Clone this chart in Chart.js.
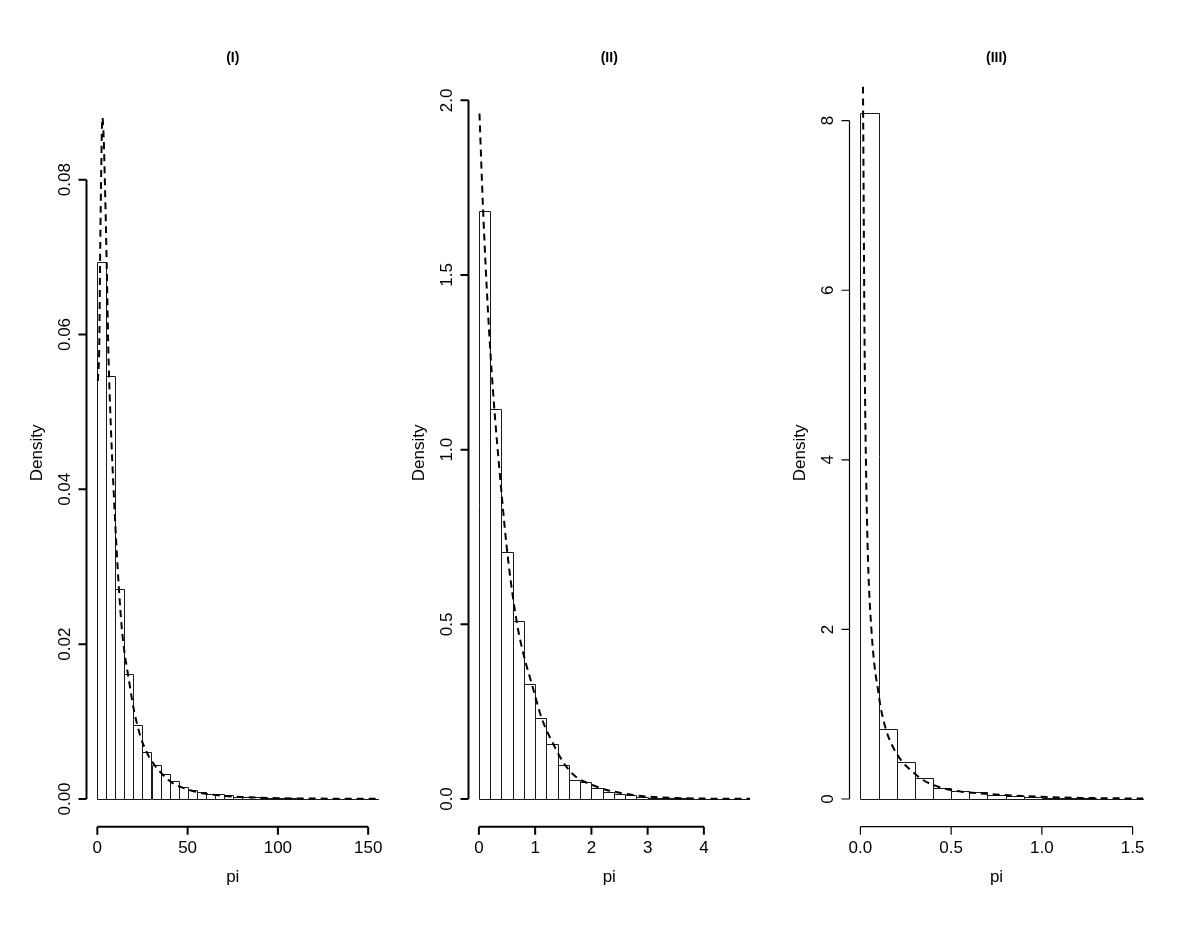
<!DOCTYPE html>
<html lang="en">
<head>
<meta charset="UTF-8">
<title>Density of pi</title>
<script src="https://cdn.jsdelivr.net/npm/chart.js"></script>
<style>
    body { margin: 0; background: #fff; }
    .wrap { position: relative; width: 1200px; height: 927px; }
    .wrap canvas { position: absolute; left: 0; top: 0; }
</style>
</head>
<body>
<div class="wrap">
    <canvas id="c1" width="1200" height="927"></canvas>
    <canvas id="c2" width="1200" height="927"></canvas>
    <canvas id="c3" width="1200" height="927"></canvas>
</div>
<script>
// ---- data ----
// (I)
const binWidthI = 5;
const densI = [0.0693, 0.0547, 0.0271, 0.0162, 0.0096, 0.0061, 0.0044, 0.0032, 0.0023, 0.0016,
               0.0012, 0.0009, 0.00065, 0.0006, 0.00048, 0.00032, 0.00026, 0.0002, 0.00016, 0.00012,
               0.0001, 0.00008, 0.00006, 0.00005, 0.00004, 0.00003, 0.00003, 0.00002, 0.00003, 0.00002,
               0.00001, 0.00001];
const curveXI = [0.3, 1.1, 1.5, 2.0, 2.8, 3.5, 4.3, 5.2, 6.1, 7.5, 9, 10.5, 12, 13.5, 15, 17.2, 20,
                 23.6, 27, 31, 36, 42, 48, 55, 62, 70, 80, 90, 100, 115, 130, 145, 157];
const curveYI = [0.054, 0.059, 0.069, 0.0786, 0.088, 0.0855, 0.0786, 0.069, 0.058, 0.048, 0.040,
                 0.033, 0.027, 0.0222, 0.019, 0.0158, 0.0118, 0.0083, 0.0062, 0.0046, 0.0032, 0.002,
                 0.0014, 0.0009, 0.0006, 0.0004, 0.00025, 0.00016, 0.0001, 0.00006, 0.00004, 0.00003, 0.00002];
const xTicksI = [0, 50, 100, 150];
const xLabelsI = ['0', '50', '100', '150'];
const yTicksI = [0, 0.02, 0.04, 0.06, 0.08];
const yLabelsI = ['0.00', '0.02', '0.04', '0.06', '0.08'];

// (II)
const binWidthII = 0.2;
const densII = [1.684, 1.116, 0.707, 0.509, 0.329, 0.232, 0.158, 0.098, 0.053, 0.048, 0.031, 0.019,
                0.013, 0.011, 0.006, 0.004, 0.003, 0.002, 0.0015, 0.001, 0.0008, 0.0005, 0.0004, 0.0003, 0.0002];
const curveXII = [0.01, 0.075, 0.16, 0.25, 0.4, 0.52, 0.68, 0.8, 0.94, 1.115, 1.32, 1.53, 1.73, 2.02,
                  2.27, 2.5, 2.75, 3.0, 3.5, 4.0, 4.5, 4.9];
const curveYII = [1.962, 1.684, 1.40, 1.17, 0.88, 0.684, 0.5, 0.41, 0.33, 0.232, 0.158, 0.098, 0.063,
                  0.04, 0.026, 0.018, 0.011, 0.007, 0.003, 0.0013, 0.0006, 0.0003];
const xTicksII = [0, 1, 2, 3, 4];
const xLabelsII = ['0', '1', '2', '3', '4'];
const yTicksII = [0, 0.5, 1, 1.5, 2];
const yLabelsII = ['0.0', '0.5', '1.0', '1.5', '2.0'];

// (III)
const binWidthIII = 0.1;
const densIII = [8.086, 0.825, 0.44, 0.244, 0.134, 0.098, 0.083, 0.043, 0.03, 0.022, 0.012, 0.008,
                 0.006, 0.004, 0.003, 0.002];
const curveXIII = [0.0143, 0.0237, 0.032, 0.042, 0.0607, 0.079, 0.097, 0.111, 0.143, 0.174, 0.226,
                   0.281, 0.345, 0.45, 0.566, 0.695, 0.895, 1.1, 1.3, 1.6];
const curveYIII = [8.4, 5.2, 3.8, 2.82, 2.0, 1.55, 1.29, 1.09, 0.805, 0.637, 0.452, 0.334, 0.224,
                   0.13, 0.083, 0.062, 0.035, 0.018, 0.01, 0.005];
const xTicksIII = [0, 0.5, 1, 1.5];
const xLabelsIII = ['0.0', '0.5', '1.0', '1.5'];
const yTicksIII = [0, 2, 4, 6, 8];
const yLabelsIII = ['0', '2', '4', '6', '8'];

const FONT = '"Liberation Sans", Arial, Helvetica, sans-serif';

// outline every histogram cell like R's rect(), on top of the white bars
const histOutline = {
    id: 'histOutline',
    afterDatasetDraw(chart, args) {
        const meta = args.meta;
        if (meta.type !== 'bar') return;
        const { ctx, chartArea: a } = chart;
        ctx.save();
        ctx.beginPath();
        ctx.rect(a.left, a.top, a.right - a.left, a.bottom - a.top);
        ctx.clip();
        ctx.strokeStyle = '#1a1a1a';
        ctx.lineWidth = 1;
        ctx.beginPath();
        meta.data.forEach(el => {
            const { x, y, base, width } = el.getProps(['x', 'y', 'base', 'width'], true);
            const l = Math.round(x - width / 2) + 0.5;
            const r = Math.round(x + width / 2) + 0.5;
            const t = Math.round(y) + 0.5;
            const b = Math.round(base) + 0.5;
            ctx.rect(l, t, r - l, b - t);
        });
        ctx.stroke();
        ctx.restore();
    }
};

// R-like axes: line only from first to last tick, labels parallel to the axis
const rAxes = {
    id: 'rAxes',
    afterDraw(chart, args, o) {
        const { ctx, chartArea: a, scales: { x, y } } = chart;
        ctx.save();
        ctx.strokeStyle = '#000';
        ctx.fillStyle = '#000';
        ctx.lineWidth = o.lineWidth;
        ctx.beginPath();
        ctx.moveTo(x.getPixelForValue(o.xTicks[0]), a.bottom);
        ctx.lineTo(x.getPixelForValue(o.xTicks[o.xTicks.length - 1]), a.bottom);
        o.xTicks.forEach(v => {
            const p = x.getPixelForValue(v);
            ctx.moveTo(p, a.bottom);
            ctx.lineTo(p, a.bottom + 8);
        });
        ctx.moveTo(a.left, y.getPixelForValue(o.yTicks[0]));
        ctx.lineTo(a.left, y.getPixelForValue(o.yTicks[o.yTicks.length - 1]));
        o.yTicks.forEach(v => {
            const p = y.getPixelForValue(v);
            ctx.moveTo(a.left, p);
            ctx.lineTo(a.left - 8, p);
        });
        ctx.stroke();

        ctx.font = '17px ' + FONT;
        ctx.textAlign = 'center';
        ctx.textBaseline = 'alphabetic';
        o.xTicks.forEach((v, i) => ctx.fillText(o.xLabels[i], x.getPixelForValue(v), a.bottom + 26.5));
        o.yTicks.forEach((v, i) => {
            ctx.save();
            ctx.translate(a.left - 16.2, y.getPixelForValue(v));
            ctx.rotate(-Math.PI / 2);
            ctx.fillText(o.yLabels[i], 0, 0);
            ctx.restore();
        });
        const cx = (a.left + a.right) / 2;
        const cy = (a.top + a.bottom) / 2;
        ctx.fillText('pi', cx, a.bottom + 55);
        ctx.save();
        ctx.translate(a.left - 45, cy);
        ctx.rotate(-Math.PI / 2);
        ctx.fillText('Density', 0, 0);
        ctx.restore();

        ctx.font = 'bold 14px ' + FONT;
        ctx.textBaseline = 'middle';
        ctx.fillText(o.title, cx, 58.5);
        ctx.restore();
    }
};

function makePanel(id, p) {
    const bars = p.dens.map((d, i) => ({ x: (i + 0.5) * p.binWidth, y: d }));
    const curve = p.curveX.map((v, i) => ({ x: v, y: p.curveY[i] }));
    return new Chart(document.getElementById(id), {
        type: 'bar',
        data: {
            datasets: [
                {
                    type: 'line',
                    data: curve,
                    borderColor: '#000',
                    borderWidth: 2,
                    borderDash: [7, 5],
                    pointRadius: 0,
                    cubicInterpolationMode: 'monotone',
                    fill: false,
                    order: 0
                },
                {
                    type: 'bar',
                    data: bars,
                    backgroundColor: '#fff',
                    borderWidth: 0,
                    barPercentage: 1,
                    categoryPercentage: 1,
                    order: 1
                }
            ]
        },
        options: {
            responsive: false,
            animation: false,
            devicePixelRatio: 1,
            layout: { padding: { left: p.left, right: 1200 - p.right, top: 79, bottom: 927 - 826.7 } },
            plugins: {
                legend: { display: false },
                tooltip: { enabled: false },
                rAxes: {
                    title: p.title, lineWidth: p.lineWidth,
                    xTicks: p.xTicks, xLabels: p.xLabels, yTicks: p.yTicks, yLabels: p.yLabels
                }
            },
            scales: {
                x: {
                    type: 'linear', display: false, offset: false, min: p.xMin, max: p.xMax,
                    afterBuildTicks: s => { s.ticks = p.xTicks.map(v => ({ value: v })); }
                },
                y: {
                    type: 'linear', display: false, min: p.yMin, max: p.yMax,
                    afterBuildTicks: s => { s.ticks = p.yTicks.map(v => ({ value: v })); }
                }
            }
        },
        plugins: [histOutline, rAxes]
    });
}

makePanel('c1', {
    title: '(I)', binWidth: binWidthI, dens: densI, curveX: curveXI, curveY: curveYI,
    xTicks: xTicksI, xLabels: xLabelsI, yTicks: yTicksI, yLabels: yLabelsI,
    left: 86.5, right: 379, xMin: -6, xMax: 156, yMin: -0.00358, yMax: 0.0930, lineWidth: 2
});
makePanel('c2', {
    title: '(II)', binWidth: binWidthII, dens: densII, curveX: curveXII, curveY: curveYII,
    xTicks: xTicksII, xLabels: xLabelsII, yTicks: yTicksII, yLabels: yLabelsII,
    left: 468.5, right: 750, xMin: -0.185, xMax: 4.82, yMin: -0.0793, yMax: 2.061, lineWidth: 2
});
makePanel('c3', {
    title: '(III)', binWidth: binWidthIII, dens: densIII, curveX: curveXIII, curveY: curveYIII,
    xTicks: xTicksIII, xLabels: xLabelsIII, yTicks: yTicksIII, yLabels: yLabelsIII,
    left: 849.5, right: 1143.5, xMin: -0.06, xMax: 1.56, yMin: -0.3267, yMax: 8.491, lineWidth: 1.2
});
</script>
</body>
</html>
